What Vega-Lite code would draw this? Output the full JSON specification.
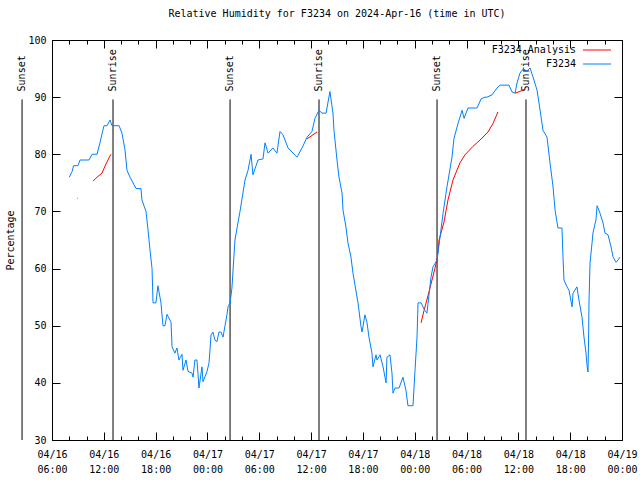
{
  "$schema": "https://vega.github.io/schema/vega-lite/v6.json",
  "width": 570,
  "height": 400,
  "autosize": {"type": "none"},
  "padding": {"left": 52, "top": 40, "right": 18, "bottom": 40},
  "background": "white",
  "title": {"text": "Relative Humidity for F3234 on 2024-Apr-16 (time in UTC)", "font": "DejaVu Sans Mono", "fontSize": 10, "fontWeight": "normal", "color": "black", "frame": "group", "offset": 16},
  "config": {
    "view": {"stroke": "black", "strokeWidth": 1},
    "font": "DejaVu Sans Mono",
    "axis": {"labelFont": "DejaVu Sans Mono", "labelFontSize": 10, "titleFont": "DejaVu Sans Mono", "titleFontSize": 10, "titleFontWeight": "normal", "labelColor": "black", "titleColor": "black", "tickColor": "black", "domain": false, "grid": false}
  },
  "datasets": {
    "events": [
      {"t": "2024-04-16T02:32:00Z", "e": "Sunset"},
      {"t": "2024-04-16T13:04:00Z", "e": "Sunrise"},
      {"t": "2024-04-17T02:37:00Z", "e": "Sunset"},
      {"t": "2024-04-17T12:55:00Z", "e": "Sunrise"},
      {"t": "2024-04-18T02:35:00Z", "e": "Sunset"},
      {"t": "2024-04-18T12:53:00Z", "e": "Sunrise"}
    ],
    "rh": [
      {"t": "2024-04-16T08:54:00Z", "v": 72.3, "s": "F3234 Analysis", "g": "r1"},
      {"t": "2024-04-16T08:58:00Z", "v": 72.3, "s": "F3234 Analysis", "g": "r1"},
      {"t": "2024-04-16T10:45:00Z", "v": 75.3, "s": "F3234 Analysis", "g": "r2"},
      {"t": "2024-04-16T11:13:00Z", "v": 76, "s": "F3234 Analysis", "g": "r2"},
      {"t": "2024-04-16T11:47:00Z", "v": 76.7, "s": "F3234 Analysis", "g": "r2"},
      {"t": "2024-04-16T12:15:00Z", "v": 78.3, "s": "F3234 Analysis", "g": "r2"},
      {"t": "2024-04-16T12:43:00Z", "v": 79.7, "s": "F3234 Analysis", "g": "r2"},
      {"t": "2024-04-16T12:50:00Z", "v": 80, "s": "F3234 Analysis", "g": "r2"},
      {"t": "2024-04-17T11:32:00Z", "v": 82.7, "s": "F3234 Analysis", "g": "r3"},
      {"t": "2024-04-17T12:41:00Z", "v": 83.9, "s": "F3234 Analysis", "g": "r3"},
      {"t": "2024-04-18T00:44:00Z", "v": 50.5, "s": "F3234 Analysis", "g": "r4"},
      {"t": "2024-04-18T01:05:00Z", "v": 52.7, "s": "F3234 Analysis", "g": "r4"},
      {"t": "2024-04-18T01:39:00Z", "v": 55.9, "s": "F3234 Analysis", "g": "r4"},
      {"t": "2024-04-18T02:00:00Z", "v": 58, "s": "F3234 Analysis", "g": "r4"},
      {"t": "2024-04-18T02:35:00Z", "v": 61.5, "s": "F3234 Analysis", "g": "r4"},
      {"t": "2024-04-18T02:49:00Z", "v": 65, "s": "F3234 Analysis", "g": "r4"},
      {"t": "2024-04-18T03:23:00Z", "v": 68.1, "s": "F3234 Analysis", "g": "r4"},
      {"t": "2024-04-18T03:51:00Z", "v": 72, "s": "F3234 Analysis", "g": "r4"},
      {"t": "2024-04-18T04:26:00Z", "v": 75.5, "s": "F3234 Analysis", "g": "r4"},
      {"t": "2024-04-18T05:14:00Z", "v": 78.5, "s": "F3234 Analysis", "g": "r4"},
      {"t": "2024-04-18T05:49:00Z", "v": 79.9, "s": "F3234 Analysis", "g": "r4"},
      {"t": "2024-04-18T06:45:00Z", "v": 81.4, "s": "F3234 Analysis", "g": "r4"},
      {"t": "2024-04-18T07:34:00Z", "v": 82.5, "s": "F3234 Analysis", "g": "r4"},
      {"t": "2024-04-18T08:29:00Z", "v": 83.9, "s": "F3234 Analysis", "g": "r4"},
      {"t": "2024-04-18T09:04:00Z", "v": 85.4, "s": "F3234 Analysis", "g": "r4"},
      {"t": "2024-04-18T09:38:00Z", "v": 87.4, "s": "F3234 Analysis", "g": "r4"},
      {"t": "2024-04-18T11:37:00Z", "v": 90.7, "s": "F3234 Analysis", "g": "r5"},
      {"t": "2024-04-18T12:11:00Z", "v": 91, "s": "F3234 Analysis", "g": "r5"},
      {"t": "2024-04-18T12:46:00Z", "v": 91.4, "s": "F3234 Analysis", "g": "r5"},
      {"t": "2024-04-16T08:00:00Z", "v": 76, "s": "F3234", "g": "b"},
      {"t": "2024-04-16T08:20:00Z", "v": 77, "s": "F3234", "g": "b"},
      {"t": "2024-04-16T08:30:00Z", "v": 78, "s": "F3234", "g": "b"},
      {"t": "2024-04-16T09:00:00Z", "v": 78, "s": "F3234", "g": "b"},
      {"t": "2024-04-16T09:15:00Z", "v": 79, "s": "F3234", "g": "b"},
      {"t": "2024-04-16T10:17:00Z", "v": 79, "s": "F3234", "g": "b"},
      {"t": "2024-04-16T10:38:00Z", "v": 80, "s": "F3234", "g": "b"},
      {"t": "2024-04-16T11:13:00Z", "v": 80, "s": "F3234", "g": "b"},
      {"t": "2024-04-16T11:33:00Z", "v": 82, "s": "F3234", "g": "b"},
      {"t": "2024-04-16T12:01:00Z", "v": 85, "s": "F3234", "g": "b"},
      {"t": "2024-04-16T12:22:00Z", "v": 85, "s": "F3234", "g": "b"},
      {"t": "2024-04-16T12:43:00Z", "v": 86, "s": "F3234", "g": "b"},
      {"t": "2024-04-16T12:57:00Z", "v": 85, "s": "F3234", "g": "b"},
      {"t": "2024-04-16T13:46:00Z", "v": 85, "s": "F3234", "g": "b"},
      {"t": "2024-04-16T14:06:00Z", "v": 83.7, "s": "F3234", "g": "b"},
      {"t": "2024-04-16T14:27:00Z", "v": 80.8, "s": "F3234", "g": "b"},
      {"t": "2024-04-16T14:41:00Z", "v": 77.2, "s": "F3234", "g": "b"},
      {"t": "2024-04-16T15:02:00Z", "v": 76, "s": "F3234", "g": "b"},
      {"t": "2024-04-16T15:44:00Z", "v": 74, "s": "F3234", "g": "b"},
      {"t": "2024-04-16T16:18:00Z", "v": 74, "s": "F3234", "g": "b"},
      {"t": "2024-04-16T16:25:00Z", "v": 72, "s": "F3234", "g": "b"},
      {"t": "2024-04-16T16:53:00Z", "v": 70, "s": "F3234", "g": "b"},
      {"t": "2024-04-16T17:07:00Z", "v": 66.8, "s": "F3234", "g": "b"},
      {"t": "2024-04-16T17:21:00Z", "v": 63.2, "s": "F3234", "g": "b"},
      {"t": "2024-04-16T17:35:00Z", "v": 60, "s": "F3234", "g": "b"},
      {"t": "2024-04-16T17:42:00Z", "v": 54, "s": "F3234", "g": "b"},
      {"t": "2024-04-16T18:02:00Z", "v": 54, "s": "F3234", "g": "b"},
      {"t": "2024-04-16T18:16:00Z", "v": 57, "s": "F3234", "g": "b"},
      {"t": "2024-04-16T18:37:00Z", "v": 54, "s": "F3234", "g": "b"},
      {"t": "2024-04-16T18:51:00Z", "v": 50, "s": "F3234", "g": "b"},
      {"t": "2024-04-16T19:05:00Z", "v": 50, "s": "F3234", "g": "b"},
      {"t": "2024-04-16T19:19:00Z", "v": 52, "s": "F3234", "g": "b"},
      {"t": "2024-04-16T19:47:00Z", "v": 50.6, "s": "F3234", "g": "b"},
      {"t": "2024-04-16T19:54:00Z", "v": 46.3, "s": "F3234", "g": "b"},
      {"t": "2024-04-16T20:14:00Z", "v": 45.2, "s": "F3234", "g": "b"},
      {"t": "2024-04-16T20:28:00Z", "v": 46.1, "s": "F3234", "g": "b"},
      {"t": "2024-04-16T20:42:00Z", "v": 44, "s": "F3234", "g": "b"},
      {"t": "2024-04-16T21:03:00Z", "v": 45, "s": "F3234", "g": "b"},
      {"t": "2024-04-16T21:10:00Z", "v": 42.2, "s": "F3234", "g": "b"},
      {"t": "2024-04-16T21:31:00Z", "v": 44, "s": "F3234", "g": "b"},
      {"t": "2024-04-16T21:45:00Z", "v": 42, "s": "F3234", "g": "b"},
      {"t": "2024-04-16T22:13:00Z", "v": 41.7, "s": "F3234", "g": "b"},
      {"t": "2024-04-16T22:20:00Z", "v": 41, "s": "F3234", "g": "b"},
      {"t": "2024-04-16T22:33:00Z", "v": 44, "s": "F3234", "g": "b"},
      {"t": "2024-04-16T22:47:00Z", "v": 44, "s": "F3234", "g": "b"},
      {"t": "2024-04-16T22:54:00Z", "v": 41.7, "s": "F3234", "g": "b"},
      {"t": "2024-04-16T23:01:00Z", "v": 39.1, "s": "F3234", "g": "b"},
      {"t": "2024-04-16T23:22:00Z", "v": 42.8, "s": "F3234", "g": "b"},
      {"t": "2024-04-16T23:29:00Z", "v": 40.2, "s": "F3234", "g": "b"},
      {"t": "2024-04-16T23:57:00Z", "v": 42, "s": "F3234", "g": "b"},
      {"t": "2024-04-17T00:11:00Z", "v": 43.5, "s": "F3234", "g": "b"},
      {"t": "2024-04-17T00:25:00Z", "v": 48.4, "s": "F3234", "g": "b"},
      {"t": "2024-04-17T00:38:00Z", "v": 48.9, "s": "F3234", "g": "b"},
      {"t": "2024-04-17T00:52:00Z", "v": 47.5, "s": "F3234", "g": "b"},
      {"t": "2024-04-17T01:06:00Z", "v": 47.2, "s": "F3234", "g": "b"},
      {"t": "2024-04-17T01:20:00Z", "v": 48.9, "s": "F3234", "g": "b"},
      {"t": "2024-04-17T01:34:00Z", "v": 48.9, "s": "F3234", "g": "b"},
      {"t": "2024-04-17T01:48:00Z", "v": 48, "s": "F3234", "g": "b"},
      {"t": "2024-04-17T02:02:00Z", "v": 50, "s": "F3234", "g": "b"},
      {"t": "2024-04-17T02:16:00Z", "v": 52, "s": "F3234", "g": "b"},
      {"t": "2024-04-17T02:23:00Z", "v": 53.3, "s": "F3234", "g": "b"},
      {"t": "2024-04-17T02:37:00Z", "v": 54, "s": "F3234", "g": "b"},
      {"t": "2024-04-17T02:50:00Z", "v": 56.6, "s": "F3234", "g": "b"},
      {"t": "2024-04-17T03:11:00Z", "v": 65, "s": "F3234", "g": "b"},
      {"t": "2024-04-17T03:46:00Z", "v": 70, "s": "F3234", "g": "b"},
      {"t": "2024-04-17T04:21:00Z", "v": 75.5, "s": "F3234", "g": "b"},
      {"t": "2024-04-17T04:42:00Z", "v": 77.2, "s": "F3234", "g": "b"},
      {"t": "2024-04-17T05:03:00Z", "v": 80, "s": "F3234", "g": "b"},
      {"t": "2024-04-17T05:16:00Z", "v": 76.4, "s": "F3234", "g": "b"},
      {"t": "2024-04-17T05:51:00Z", "v": 79, "s": "F3234", "g": "b"},
      {"t": "2024-04-17T06:26:00Z", "v": 79.2, "s": "F3234", "g": "b"},
      {"t": "2024-04-17T06:40:00Z", "v": 82, "s": "F3234", "g": "b"},
      {"t": "2024-04-17T07:01:00Z", "v": 80.2, "s": "F3234", "g": "b"},
      {"t": "2024-04-17T07:35:00Z", "v": 81.1, "s": "F3234", "g": "b"},
      {"t": "2024-04-17T08:03:00Z", "v": 80.2, "s": "F3234", "g": "b"},
      {"t": "2024-04-17T08:24:00Z", "v": 84, "s": "F3234", "g": "b"},
      {"t": "2024-04-17T08:45:00Z", "v": 83.4, "s": "F3234", "g": "b"},
      {"t": "2024-04-17T09:20:00Z", "v": 81.1, "s": "F3234", "g": "b"},
      {"t": "2024-04-17T10:22:00Z", "v": 79.5, "s": "F3234", "g": "b"},
      {"t": "2024-04-17T10:57:00Z", "v": 81.1, "s": "F3234", "g": "b"},
      {"t": "2024-04-17T11:32:00Z", "v": 83, "s": "F3234", "g": "b"},
      {"t": "2024-04-17T12:06:00Z", "v": 84, "s": "F3234", "g": "b"},
      {"t": "2024-04-17T12:27:00Z", "v": 86.3, "s": "F3234", "g": "b"},
      {"t": "2024-04-17T12:55:00Z", "v": 87.7, "s": "F3234", "g": "b"},
      {"t": "2024-04-17T13:16:00Z", "v": 87.2, "s": "F3234", "g": "b"},
      {"t": "2024-04-17T13:44:00Z", "v": 87.2, "s": "F3234", "g": "b"},
      {"t": "2024-04-17T14:11:00Z", "v": 91, "s": "F3234", "g": "b"},
      {"t": "2024-04-17T14:32:00Z", "v": 87.2, "s": "F3234", "g": "b"},
      {"t": "2024-04-17T14:39:00Z", "v": 84.2, "s": "F3234", "g": "b"},
      {"t": "2024-04-17T15:00:00Z", "v": 79, "s": "F3234", "g": "b"},
      {"t": "2024-04-17T15:14:00Z", "v": 76, "s": "F3234", "g": "b"},
      {"t": "2024-04-17T15:35:00Z", "v": 73.2, "s": "F3234", "g": "b"},
      {"t": "2024-04-17T15:42:00Z", "v": 70.2, "s": "F3234", "g": "b"},
      {"t": "2024-04-17T16:02:00Z", "v": 67.3, "s": "F3234", "g": "b"},
      {"t": "2024-04-17T16:16:00Z", "v": 64.5, "s": "F3234", "g": "b"},
      {"t": "2024-04-17T16:37:00Z", "v": 62, "s": "F3234", "g": "b"},
      {"t": "2024-04-17T16:51:00Z", "v": 59.2, "s": "F3234", "g": "b"},
      {"t": "2024-04-17T17:05:00Z", "v": 57.1, "s": "F3234", "g": "b"},
      {"t": "2024-04-17T17:26:00Z", "v": 54, "s": "F3234", "g": "b"},
      {"t": "2024-04-17T17:47:00Z", "v": 49.8, "s": "F3234", "g": "b"},
      {"t": "2024-04-17T17:54:00Z", "v": 48.9, "s": "F3234", "g": "b"},
      {"t": "2024-04-17T18:14:00Z", "v": 51.9, "s": "F3234", "g": "b"},
      {"t": "2024-04-17T18:28:00Z", "v": 50.6, "s": "F3234", "g": "b"},
      {"t": "2024-04-17T18:42:00Z", "v": 48, "s": "F3234", "g": "b"},
      {"t": "2024-04-17T19:03:00Z", "v": 45.2, "s": "F3234", "g": "b"},
      {"t": "2024-04-17T19:10:00Z", "v": 42.8, "s": "F3234", "g": "b"},
      {"t": "2024-04-17T19:31:00Z", "v": 44.9, "s": "F3234", "g": "b"},
      {"t": "2024-04-17T19:38:00Z", "v": 44, "s": "F3234", "g": "b"},
      {"t": "2024-04-17T19:59:00Z", "v": 44.9, "s": "F3234", "g": "b"},
      {"t": "2024-04-17T20:20:00Z", "v": 42.8, "s": "F3234", "g": "b"},
      {"t": "2024-04-17T20:41:00Z", "v": 40, "s": "F3234", "g": "b"},
      {"t": "2024-04-17T20:47:00Z", "v": 44.5, "s": "F3234", "g": "b"},
      {"t": "2024-04-17T21:08:00Z", "v": 44.9, "s": "F3234", "g": "b"},
      {"t": "2024-04-17T21:22:00Z", "v": 41.7, "s": "F3234", "g": "b"},
      {"t": "2024-04-17T21:29:00Z", "v": 38.2, "s": "F3234", "g": "b"},
      {"t": "2024-04-17T21:43:00Z", "v": 39.1, "s": "F3234", "g": "b"},
      {"t": "2024-04-17T22:11:00Z", "v": 39.1, "s": "F3234", "g": "b"},
      {"t": "2024-04-17T22:38:00Z", "v": 41, "s": "F3234", "g": "b"},
      {"t": "2024-04-17T22:59:00Z", "v": 38.7, "s": "F3234", "g": "b"},
      {"t": "2024-04-17T23:13:00Z", "v": 36, "s": "F3234", "g": "b"},
      {"t": "2024-04-17T23:48:00Z", "v": 36, "s": "F3234", "g": "b"},
      {"t": "2024-04-18T00:02:00Z", "v": 42.2, "s": "F3234", "g": "b"},
      {"t": "2024-04-18T00:16:00Z", "v": 48, "s": "F3234", "g": "b"},
      {"t": "2024-04-18T00:23:00Z", "v": 54, "s": "F3234", "g": "b"},
      {"t": "2024-04-18T00:44:00Z", "v": 54, "s": "F3234", "g": "b"},
      {"t": "2024-04-18T01:05:00Z", "v": 52.9, "s": "F3234", "g": "b"},
      {"t": "2024-04-18T01:25:00Z", "v": 52.2, "s": "F3234", "g": "b"},
      {"t": "2024-04-18T01:53:00Z", "v": 58.5, "s": "F3234", "g": "b"},
      {"t": "2024-04-18T02:07:00Z", "v": 60.3, "s": "F3234", "g": "b"},
      {"t": "2024-04-18T02:35:00Z", "v": 61.5, "s": "F3234", "g": "b"},
      {"t": "2024-04-18T02:56:00Z", "v": 65.5, "s": "F3234", "g": "b"},
      {"t": "2024-04-18T03:17:00Z", "v": 69.7, "s": "F3234", "g": "b"},
      {"t": "2024-04-18T03:44:00Z", "v": 74.3, "s": "F3234", "g": "b"},
      {"t": "2024-04-18T04:19:00Z", "v": 79.5, "s": "F3234", "g": "b"},
      {"t": "2024-04-18T04:33:00Z", "v": 82.8, "s": "F3234", "g": "b"},
      {"t": "2024-04-18T05:01:00Z", "v": 85.4, "s": "F3234", "g": "b"},
      {"t": "2024-04-18T05:29:00Z", "v": 87.7, "s": "F3234", "g": "b"},
      {"t": "2024-04-18T05:43:00Z", "v": 86.3, "s": "F3234", "g": "b"},
      {"t": "2024-04-18T06:10:00Z", "v": 88.1, "s": "F3234", "g": "b"},
      {"t": "2024-04-18T07:13:00Z", "v": 88.1, "s": "F3234", "g": "b"},
      {"t": "2024-04-18T07:41:00Z", "v": 89.7, "s": "F3234", "g": "b"},
      {"t": "2024-04-18T08:08:00Z", "v": 90, "s": "F3234", "g": "b"},
      {"t": "2024-04-18T08:22:00Z", "v": 90, "s": "F3234", "g": "b"},
      {"t": "2024-04-18T08:57:00Z", "v": 90.4, "s": "F3234", "g": "b"},
      {"t": "2024-04-18T09:32:00Z", "v": 91.6, "s": "F3234", "g": "b"},
      {"t": "2024-04-18T09:53:00Z", "v": 92.1, "s": "F3234", "g": "b"},
      {"t": "2024-04-18T10:55:00Z", "v": 92.1, "s": "F3234", "g": "b"},
      {"t": "2024-04-18T11:16:00Z", "v": 90.9, "s": "F3234", "g": "b"},
      {"t": "2024-04-18T11:37:00Z", "v": 90.7, "s": "F3234", "g": "b"},
      {"t": "2024-04-18T11:51:00Z", "v": 92.5, "s": "F3234", "g": "b"},
      {"t": "2024-04-18T12:11:00Z", "v": 94.2, "s": "F3234", "g": "b"},
      {"t": "2024-04-18T12:32:00Z", "v": 94.9, "s": "F3234", "g": "b"},
      {"t": "2024-04-18T13:00:00Z", "v": 94.6, "s": "F3234", "g": "b"},
      {"t": "2024-04-18T13:21:00Z", "v": 95.1, "s": "F3234", "g": "b"},
      {"t": "2024-04-18T13:42:00Z", "v": 93.5, "s": "F3234", "g": "b"},
      {"t": "2024-04-18T14:10:00Z", "v": 91.2, "s": "F3234", "g": "b"},
      {"t": "2024-04-18T14:31:00Z", "v": 87.7, "s": "F3234", "g": "b"},
      {"t": "2024-04-18T14:51:00Z", "v": 84.2, "s": "F3234", "g": "b"},
      {"t": "2024-04-18T15:19:00Z", "v": 83, "s": "F3234", "g": "b"},
      {"t": "2024-04-18T15:40:00Z", "v": 78.5, "s": "F3234", "g": "b"},
      {"t": "2024-04-18T16:01:00Z", "v": 74.3, "s": "F3234", "g": "b"},
      {"t": "2024-04-18T16:15:00Z", "v": 70.2, "s": "F3234", "g": "b"},
      {"t": "2024-04-18T16:35:00Z", "v": 67.1, "s": "F3234", "g": "b"},
      {"t": "2024-04-18T17:03:00Z", "v": 67.1, "s": "F3234", "g": "b"},
      {"t": "2024-04-18T17:10:00Z", "v": 62, "s": "F3234", "g": "b"},
      {"t": "2024-04-18T17:17:00Z", "v": 58, "s": "F3234", "g": "b"},
      {"t": "2024-04-18T17:38:00Z", "v": 56.8, "s": "F3234", "g": "b"},
      {"t": "2024-04-18T17:52:00Z", "v": 56.2, "s": "F3234", "g": "b"},
      {"t": "2024-04-18T18:13:00Z", "v": 53.3, "s": "F3234", "g": "b"},
      {"t": "2024-04-18T18:20:00Z", "v": 55.7, "s": "F3234", "g": "b"},
      {"t": "2024-04-18T18:47:00Z", "v": 56.8, "s": "F3234", "g": "b"},
      {"t": "2024-04-18T19:01:00Z", "v": 54.5, "s": "F3234", "g": "b"},
      {"t": "2024-04-18T19:22:00Z", "v": 51.5, "s": "F3234", "g": "b"},
      {"t": "2024-04-18T19:36:00Z", "v": 48, "s": "F3234", "g": "b"},
      {"t": "2024-04-18T19:50:00Z", "v": 45.2, "s": "F3234", "g": "b"},
      {"t": "2024-04-18T19:57:00Z", "v": 43.1, "s": "F3234", "g": "b"},
      {"t": "2024-04-18T20:04:00Z", "v": 41.9, "s": "F3234", "g": "b"},
      {"t": "2024-04-18T20:07:00Z", "v": 46.3, "s": "F3234", "g": "b"},
      {"t": "2024-04-18T20:11:00Z", "v": 54.5, "s": "F3234", "g": "b"},
      {"t": "2024-04-18T20:18:00Z", "v": 61, "s": "F3234", "g": "b"},
      {"t": "2024-04-18T20:32:00Z", "v": 64.5, "s": "F3234", "g": "b"},
      {"t": "2024-04-18T20:38:00Z", "v": 66.2, "s": "F3234", "g": "b"},
      {"t": "2024-04-18T20:59:00Z", "v": 68.5, "s": "F3234", "g": "b"},
      {"t": "2024-04-18T21:07:00Z", "v": 71, "s": "F3234", "g": "b"},
      {"t": "2024-04-18T21:27:00Z", "v": 69.7, "s": "F3234", "g": "b"},
      {"t": "2024-04-18T21:48:00Z", "v": 68, "s": "F3234", "g": "b"},
      {"t": "2024-04-18T22:02:00Z", "v": 66.2, "s": "F3234", "g": "b"},
      {"t": "2024-04-18T22:23:00Z", "v": 65.9, "s": "F3234", "g": "b"},
      {"t": "2024-04-18T22:44:00Z", "v": 63.8, "s": "F3234", "g": "b"},
      {"t": "2024-04-18T22:58:00Z", "v": 62, "s": "F3234", "g": "b"},
      {"t": "2024-04-18T23:19:00Z", "v": 61.1, "s": "F3234", "g": "b"},
      {"t": "2024-04-18T23:32:00Z", "v": 61.5, "s": "F3234", "g": "b"},
      {"t": "2024-04-18T23:46:00Z", "v": 62, "s": "F3234", "g": "b"}
    ]
  },
  "layer": [
    {
      "data": {"name": "events"},
      "mark": {"type": "rule", "color": "black", "strokeWidth": 1},
      "encoding": {
        "x": {"field": "t", "type": "temporal", "scale": {"type": "utc", "domain": [1713247200000, 1713484800000], "nice": false}, "axis": {"orient": "bottom", "title": null, "labels": false, "tickSize": -4, "values": [1713247200000, 1713254400000, 1713261600000, 1713268800000, 1713276000000, 1713283200000, 1713290400000, 1713297600000, 1713304800000, 1713312000000, 1713319200000, 1713326400000, 1713333600000, 1713340800000, 1713348000000, 1713355200000, 1713362400000, 1713369600000, 1713376800000, 1713384000000, 1713391200000, 1713398400000, 1713405600000, 1713412800000, 1713420000000, 1713427200000, 1713434400000, 1713441600000, 1713448800000, 1713456000000, 1713463200000, 1713470400000, 1713477600000, 1713484800000]}},
        "y": {"datum": 30, "type": "quantitative", "scale": {"domain": [30, 100], "nice": false}, "axis": null},
        "y2": {"datum": 89.6}
      }
    },
    {
      "data": {"name": "events"},
      "transform": [{"filter": "datum.e == 'Sunset'"}],
      "mark": {"type": "text", "angle": 270, "align": "left", "baseline": "middle", "fontSize": 10, "font": "DejaVu Sans Mono", "color": "black"},
      "encoding": {
        "x": {"field": "t", "type": "temporal", "axis": {"orient": "top", "title": null, "labels": false, "tickSize": -4, "values": [1713247200000, 1713254400000, 1713261600000, 1713268800000, 1713276000000, 1713283200000, 1713290400000, 1713297600000, 1713304800000, 1713312000000, 1713319200000, 1713326400000, 1713333600000, 1713340800000, 1713348000000, 1713355200000, 1713362400000, 1713369600000, 1713376800000, 1713384000000, 1713391200000, 1713398400000, 1713405600000, 1713412800000, 1713420000000, 1713427200000, 1713434400000, 1713441600000, 1713448800000, 1713456000000, 1713463200000, 1713470400000, 1713477600000, 1713484800000]}},
        "y": {"datum": 91, "type": "quantitative", "axis": null},
        "text": {"field": "e"}
      }
    },
    {
      "data": {"name": "events"},
      "transform": [{"filter": "datum.e == 'Sunrise'"}],
      "mark": {"type": "text", "angle": 270, "align": "left", "baseline": "middle", "fontSize": 10, "font": "DejaVu Sans Mono", "color": "black"},
      "encoding": {
        "x": {"field": "t", "type": "temporal", "axis": {"orient": "top", "title": null, "labels": false, "tickSize": -8, "values": [1713247200000, 1713268800000, 1713290400000, 1713312000000, 1713333600000, 1713355200000, 1713376800000, 1713398400000, 1713420000000, 1713441600000, 1713463200000, 1713484800000]}},
        "y": {"datum": 91, "type": "quantitative", "axis": {"orient": "right", "title": null, "labels": false, "tickSize": -8, "values": [30, 40, 50, 60, 70, 80, 90, 100]}},
        "text": {"field": "e"}
      }
    },
    {
      "data": {"name": "rh"},
      "transform": [{"filter": "datum.s == 'F3234 Analysis'"}],
      "mark": {"type": "line", "strokeWidth": 1},
      "encoding": {
        "x": {"field": "t", "type": "temporal", "axis": null},
        "y": {"field": "v", "type": "quantitative", "axis": null},
        "color": {"field": "s", "type": "nominal", "scale": {"domain": ["F3234 Analysis", "F3234"], "range": ["#ff0000", "#0080ff"]}, "legend": {"orient": "none", "legendX": 540, "legendY": 5, "title": null, "symbolType": "M-3.5,0H3.5", "symbolSize": 64, "symbolStrokeWidth": 1, "labelAlign": "right", "labelOffset": -26, "labelFont": "DejaVu Sans Mono", "labelFontSize": 10, "labelColor": "black", "rowPadding": 4, "labelLimit": 0}},
        "detail": {"field": "g"}
      }
    },
    {
      "data": {"name": "rh"},
      "transform": [{"filter": "datum.s == 'F3234'"}],
      "mark": {"type": "line", "strokeWidth": 1},
      "encoding": {
        "x": {"field": "t", "type": "temporal", "axis": {"orient": "bottom", "title": null, "tickSize": -8, "labelPadding": 17, "values": [1713247200000, 1713268800000, 1713290400000, 1713312000000, 1713333600000, 1713355200000, 1713376800000, 1713398400000, 1713420000000, 1713441600000, 1713463200000, 1713484800000], "labelExpr": "[utcFormat(datum.value, '%m/%d'), utcFormat(datum.value, '%H:%M')]", "labelLineHeight": 15, "labelOverlap": false, "labelFlush": false, "labelBound": false, "labelBaseline": "top"}},
        "y": {"field": "v", "type": "quantitative", "axis": {"orient": "left", "title": "Percentage", "titlePadding": 12, "tickSize": -8, "labelPadding": 14, "values": [30, 40, 50, 60, 70, 80, 90, 100]}},
        "color": {"field": "s", "type": "nominal", "scale": {"domain": ["F3234 Analysis", "F3234"], "range": ["#ff0000", "#0080ff"]}, "legend": {"orient": "none", "legendX": 540, "legendY": 5, "title": null, "symbolType": "M-3.5,0H3.5", "symbolSize": 64, "symbolStrokeWidth": 1, "labelAlign": "right", "labelOffset": -26, "labelFont": "DejaVu Sans Mono", "labelFontSize": 10, "labelColor": "black", "rowPadding": 4, "labelLimit": 0}},
        "detail": {"field": "g"}
      }
    }
  ],
  "resolve": {"axis": {"x": "independent", "y": "independent"}}
}
